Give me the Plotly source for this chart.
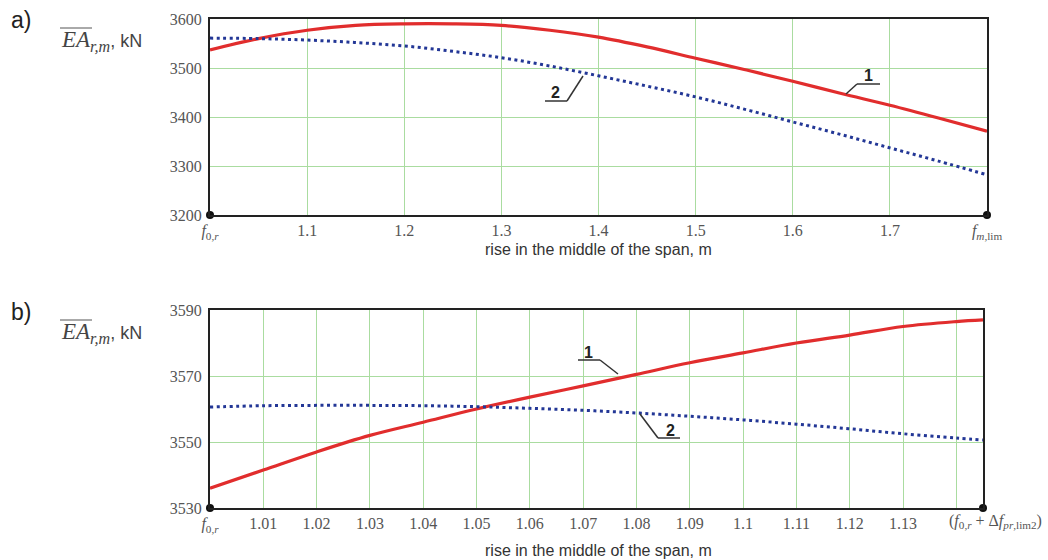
import plotly.graph_objects as go

# ---- data: panel a) ----
xa = [1.0, 1.05, 1.1, 1.15, 1.2, 1.25, 1.3, 1.35, 1.4, 1.45, 1.5, 1.55, 1.6, 1.65, 1.7, 1.75, 1.8]
ya_1 = [3537, 3560, 3577, 3587, 3590, 3590, 3587, 3577, 3563, 3543, 3520, 3497, 3473, 3448, 3424, 3398, 3371]
ya_2 = [3561, 3560, 3557, 3552, 3545, 3534, 3521, 3504, 3484, 3463, 3441, 3416, 3390, 3364, 3337, 3310, 3282]
xa_ticks = [1.0, 1.1, 1.2, 1.3, 1.4, 1.5, 1.6, 1.7, 1.8]
xa_text = ["<i>f</i><sub>0,<i>r</i></sub>", "1.1", "1.2", "1.3", "1.4", "1.5", "1.6", "1.7",
           "<i>f</i><sub><i>m</i>,lim</sub>"]
ya_ticks = [3200, 3300, 3400, 3500, 3600]

# ---- data: panel b) ----
xb = [1.0, 1.01, 1.02, 1.03, 1.04, 1.05, 1.06, 1.07, 1.08, 1.09, 1.1, 1.11, 1.12, 1.13, 1.14, 1.145]
yb_1 = [3536, 3541.5, 3547, 3552, 3556, 3560, 3563.6, 3567, 3570.5, 3574, 3577, 3580, 3582.4, 3585, 3586.5, 3587]
yb_2 = [3560.6, 3561, 3561.1, 3561.1, 3561, 3560.7, 3560.2, 3559.6, 3558.8, 3557.8, 3556.7, 3555.4, 3554,
        3552.5, 3551.2, 3550.6]
xb_ticks = [1.0, 1.01, 1.02, 1.03, 1.04, 1.05, 1.06, 1.07, 1.08, 1.09, 1.1, 1.11, 1.12, 1.13, 1.14]
xb_text = ["<i>f</i><sub>0,<i>r</i></sub>", "1.01", "1.02", "1.03", "1.04", "1.05", "1.06", "1.07", "1.08",
           "1.09", "1.1", "1.11", "1.12", "1.13", ""]
yb_ticks = [3530, 3550, 3570, 3590]

W, H = 1048, 560
RED = "rgb(225,45,45)"
BLUE = "rgb(35,55,150)"
GRID = "rgb(170,220,160)"
SERIF = "Liberation Serif, Times New Roman, serif"
SANS = "Liberation Sans, Arial, sans-serif"

def px(x):
    return x / W

def py(y):
    return 1 - y / H

fig = go.Figure()

fig.add_trace(go.Scatter(x=xa, y=ya_1, mode="lines", line=dict(color=RED, width=3.2, shape="spline"),
                         xaxis="x", yaxis="y", showlegend=False))
fig.add_trace(go.Scatter(x=xa, y=ya_2, mode="lines",
                         line=dict(color=BLUE, width=3, dash="3px,3.5px", shape="spline"),
                         xaxis="x", yaxis="y", showlegend=False))
fig.add_trace(go.Scatter(x=[xa[0], xa[-1]], y=[ya_ticks[0], ya_ticks[0]], mode="markers",
                         marker=dict(color="#111", size=8), cliponaxis=False,
                         xaxis="x", yaxis="y", showlegend=False))

fig.add_trace(go.Scatter(x=xb, y=yb_1, mode="lines", line=dict(color=RED, width=3.2, shape="spline"),
                         xaxis="x2", yaxis="y2", showlegend=False))
fig.add_trace(go.Scatter(x=xb, y=yb_2, mode="lines",
                         line=dict(color=BLUE, width=3, dash="3px,3.5px", shape="spline"),
                         xaxis="x2", yaxis="y2", showlegend=False))
fig.add_trace(go.Scatter(x=[xb[0], xb[-1]], y=[yb_ticks[0], yb_ticks[0]], mode="markers",
                         marker=dict(color="#111", size=8), cliponaxis=False,
                         xaxis="x2", yaxis="y2", showlegend=False))

tickfont = dict(family=SERIF, size=16, color="#555")
axcommon = dict(showline=True, linecolor="#222", linewidth=2, mirror=True, showgrid=True,
                gridcolor=GRID, gridwidth=1, zeroline=False, ticks="", tickfont=tickfont,
                tickmode="array", automargin=False)

fig.update_layout(
    width=W, height=H, margin=dict(l=0, r=0, t=0, b=0, pad=0), autosize=False,
    paper_bgcolor="white", plot_bgcolor="white",
    xaxis=dict(domain=[px(210), px(987)], range=[xa[0], xa[-1]], tickvals=xa_ticks, ticktext=xa_text,
               anchor="y", ticklabelstandoff=0, **axcommon),
    yaxis=dict(domain=[py(215), py(19)], range=[ya_ticks[0], ya_ticks[-1]], tickvals=ya_ticks,
               anchor="x", ticklabelstandoff=3, **axcommon),
    xaxis2=dict(domain=[px(210), px(983)], range=[xb[0], xb[-1]], tickvals=xb_ticks, ticktext=xb_text,
                anchor="y2", ticklabelstandoff=0, **axcommon),
    yaxis2=dict(domain=[py(508), py(310)], range=[yb_ticks[0], yb_ticks[-1]], tickvals=yb_ticks,
                anchor="x2", ticklabelstandoff=3, **axcommon),
)

ann = []
def text(x, y, s, size=14, family=SANS, color="#333", xanchor="center"):
    ann.append(dict(x=px(x), y=py(y), xref="paper", yref="paper", text=s, showarrow=False,
                    font=dict(family=family, size=size, color=color), xanchor=xanchor, yanchor="middle"))

text(598, 249, "rise in the middle of the span, m", 16)
text(598, 550, "rise in the middle of the span, m", 16)
text(9, 20, "a)", 23, color="#222", xanchor="left")
text(9, 312, "b)", 23, color="#222", xanchor="left")
lab = ("<i>EA</i><sub><i>r,m</i></sub><span style='font-family:Liberation Sans,Arial;font-size:18px'>, kN</span>")
text(59, 41, lab, 23, family=SERIF, color="#444", xanchor="left")
text(59, 333, lab, 23, family=SERIF, color="#444", xanchor="left")
text(995, 521, "(<i>f</i><sub>0,<i>r</i></sub> + Δ<i>f</i><sub><i>pr</i>,lim2</sub>)", 16, family=SERIF,
     color="#555")
# curve labels
text(868, 76, "<b>1</b>", 16, color="#222")
text(555, 93, "<b>2</b>", 16, color="#222")
text(588, 352, "<b>1</b>", 16, color="#222")
text(670, 430, "<b>2</b>", 16, color="#222")
fig.update_layout(annotations=ann)

shapes = []
def seg(x0, y0, x1, y1, w=1.5, c="#333"):
    shapes.append(dict(type="line", xref="paper", yref="paper", x0=px(x0), y0=py(y0), x1=px(x1), y1=py(y1),
                       line=dict(color=c, width=w)))

# overlines over "EA"
seg(60, 28, 92, 28, 1, "#555")
seg(60, 320, 92, 320, 1, "#555")
# leader lines panel a
seg(857, 84, 880, 84)
seg(857, 84, 846, 94)
seg(545, 101, 567, 101)
seg(567, 101, 583, 76)
# leader lines panel b
seg(578, 360, 600, 360)
seg(600, 360, 618, 374)
seg(658, 438, 680, 438)
seg(658, 438, 640, 414)
fig.update_layout(shapes=shapes)

fig.write_html("out.html", config={"displayModeBar": False},
               post_script="document.body.style.margin='0';document.body.style.padding='0';"
                           "document.body.style.overflow='hidden';")
